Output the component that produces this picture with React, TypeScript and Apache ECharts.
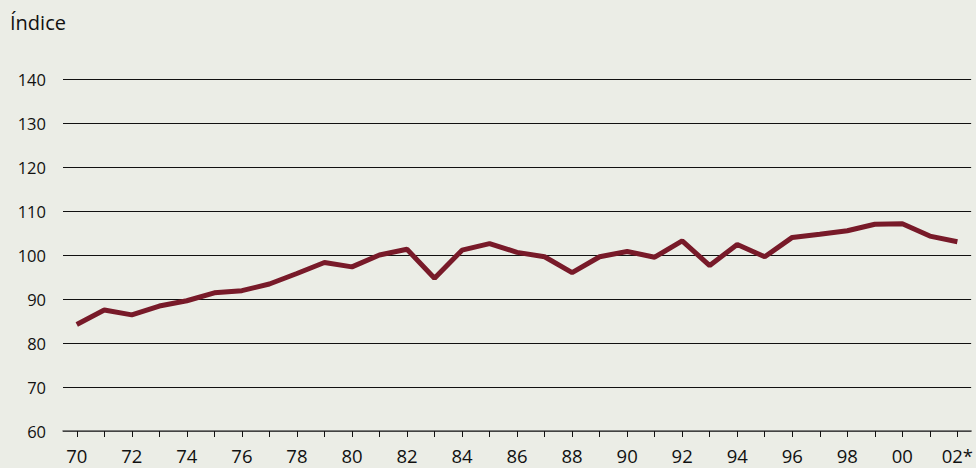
import React, { useEffect, useRef } from "react";
import * as echarts from "echarts";

const years = ["70","71","72","73","74","75","76","77","78","79","80","81","82","83","84","85","86","87","88","89","90","91","92","93","94","95","96","97","98","99","00","01","02*"];
const indexValues = [84.2,87.5,86.4,88.4,89.6,91.4,91.9,93.4,95.8,98.3,97.3,100.0,101.3,94.7,101.1,102.6,100.6,99.6,96.0,99.6,100.8,99.5,103.2,97.6,102.4,99.6,104.0,104.7,105.5,107.0,107.1,104.3,103.0];
const yTicks = { min: 60, max: 140, interval: 10 };
const yTitle = "Índice";

export default function App() {
  const ref = useRef<HTMLDivElement>(null);
  useEffect(() => {
    if (!ref.current) return;
    const chart = echarts.init(ref.current, null, { renderer: "svg" });
    const font = "'Open Sans', 'Noto Sans', sans-serif";
    chart.setOption({
      animation: false,
      backgroundColor: "#ebede6",
      textStyle: { fontFamily: font },
      title: {
        text: yTitle,
        left: 5,
        top: 7,
        textStyle: { fontSize: 20, fontWeight: "normal", color: "#111", fontFamily: font },
      },
      grid: { left: 63, right: 1, top: 79, bottom: 37, containLabel: false },
      xAxis: {
        type: "category",
        data: years,
        boundaryGap: true,
        axisLine: { show: true, lineStyle: { color: "#555", width: 1.5 } },
        axisTick: { show: true, interval: 0, alignWithLabel: true, length: 6, lineStyle: { color: "#111", width: 1 } },
        axisLabel: { interval: 1, color: "#111", fontSize: 18.5, margin: 15, fontFamily: font },
        splitLine: { show: false },
      },
      yAxis: {
        type: "value",
        min: yTicks.min,
        max: yTicks.max,
        interval: yTicks.interval,
        axisLine: { show: false },
        axisTick: { show: false },
        axisLabel: { color: "#111", fontSize: 16.5, margin: 17, fontFamily: font },
        splitLine: { show: true, lineStyle: { color: "#111", width: 1 } },
      },
      series: [
        {
          type: "line",
          data: indexValues,
          symbol: "none",
          lineStyle: { color: "#781a29", width: 5 },
          itemStyle: { color: "#781a29" },
        },
      ],
    });
    return () => chart.dispose();
  }, []);
  return <div ref={ref} style={{ position: "fixed", left: 0, top: 0, width: 976, height: 468 }} />;
}
